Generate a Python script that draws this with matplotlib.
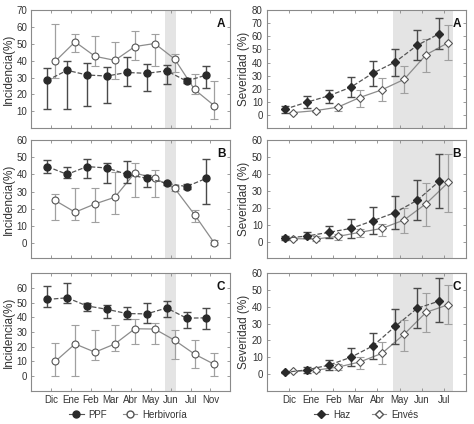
import numpy as np
import matplotlib
matplotlib.use("Agg")
import matplotlib.pyplot as plt
from matplotlib.lines import Line2D

plt.rcParams.update({'font.family': ['Liberation Sans', 'DejaVu Sans']})

# incidencia (left column)
meses_inc = ["Dic", "Ene", "Feb", "Mar", "Abr", "May", "Jun", "Jul", "Nov"]

ppf_a = [28.3, 34.3, 31.5, 30.9, 33.0, 32.5, 34.0, 27.9, 31.5]
ppf_a_lo = [11.2, 11.4, 12.8, 15.0, 25.0, 22.1, 26.3, 26.8, 23.7]
ppf_a_hi = [35.6, 39.6, 38.6, 36.4, 42.2, 37.8, 37.6, 30.0, 36.8]
herb_a = [39.6, 51.2, 42.6, 40.2, 48.4, 50.2, 41.0, 22.9, 13.2]
herb_a_lo = [30.0, 45.0, 37.0, 28.9, 40.6, 36.8, 33.3, 20.0, 5.2]
herb_a_hi = [61.5, 56.0, 54.7, 51.2, 57.5, 56.0, 44.0, 32.3, 27.7]

ppf_b = [44.5, 40.0, 44.5, 43.7, 40.0, 37.7, 34.8, 32.9, 37.7]
ppf_b_lo = [40.8, 37.7, 37.7, 34.8, 34.8, 32.9, 33.8, 31.5, 22.8]
ppf_b_hi = [48.5, 44.0, 49.0, 46.4, 47.6, 39.7, 35.8, 34.2, 49.0]
herb_b = [24.8, 18.0, 22.8, 26.7, 40.8, 37.7, 31.9, 16.6, 0.0]
herb_b_lo = [13.5, 13.2, 12.2, 17.0, 26.7, 27.0, 30.5, 12.2, -1.0]
herb_b_hi = [28.6, 32.3, 31.9, 41.6, 46.6, 42.5, 33.5, 19.3, 2.0]

ppf_c = [52.1, 53.2, 47.7, 45.4, 42.5, 42.3, 46.3, 39.4, 39.6]
ppf_c_lo = [47.2, 49.9, 44.3, 39.8, 38.9, 36.0, 40.5, 32.4, 32.2]
ppf_c_hi = [61.0, 63.5, 49.7, 48.5, 46.8, 49.9, 51.2, 43.4, 46.0]
herb_c = [10.0, 21.9, 16.3, 21.9, 32.2, 32.0, 24.4, 15.0, 8.0]
herb_c_lo = [0.0, 0.0, 11.2, 17.4, 21.9, 21.9, 11.9, 5.8, 0.0]
herb_c_hi = [22.6, 34.5, 31.5, 34.7, 38.7, 35.8, 31.1, 24.8, 15.9]

# severidad (right column)
meses_sev = ["Dic", "Ene", "Feb", "Mar", "Abr", "May", "Jun", "Jul"]

haz_a = [4.3, 9.7, 14.6, 21.2, 32.0, 40.4, 53.2, 62.1]
haz_a_lo = [1.8, 5.4, 9.2, 13.6, 22.0, 30.0, 41.7, 50.6]
haz_a_hi = [6.9, 14.3, 19.4, 28.9, 41.2, 50.4, 64.7, 74.2]
env_a = [1.8, 3.3, 5.9, 13.3, 19.2, 27.1, 46.0, 55.2]
env_a_lo = [1.2, 2.6, 3.3, 5.9, 11.0, 16.9, 32.7, 42.2]
env_a_hi = [2.4, 4.0, 6.6, 19.4, 28.1, 37.3, 57.8, 68.5]

haz_b = [2.5, 3.7, 5.9, 8.2, 12.7, 17.5, 24.7, 35.9]
haz_b_lo = [1.2, 2.4, 2.4, 2.4, 4.9, 8.0, 12.9, 20.0]
haz_b_hi = [3.9, 6.1, 9.6, 13.9, 21.0, 26.9, 36.5, 51.8]
env_b = [2.2, 2.0, 3.5, 5.9, 8.2, 13.1, 22.7, 35.1]
env_b_lo = [1.2, 1.0, 1.6, 2.9, 3.9, 5.7, 9.8, 18.0]
env_b_hi = [2.9, 3.9, 4.7, 7.6, 11.0, 20.4, 34.7, 51.8]

haz_c = [1.0, 2.5, 5.3, 10.0, 16.8, 28.3, 39.1, 43.4]
haz_c_lo = [0.5, 0.8, 2.7, 4.7, 9.2, 18.0, 27.1, 31.0]
haz_c_hi = [1.5, 4.1, 8.4, 15.4, 24.6, 38.9, 51.0, 57.2]
env_c = [1.6, 2.3, 4.1, 7.2, 12.3, 23.6, 36.7, 41.2]
env_c_lo = [1.2, 1.4, 2.3, 3.3, 6.1, 13.9, 25.0, 29.7]
env_c_hi = [2.0, 3.1, 5.9, 10.4, 18.9, 32.4, 48.4, 52.9]

DARK = "#2a2a2a"
DARK_ERR = "#4a4a4a"
LIGHT = "#8c8c8c"
LIGHT_ERR = "#a0a0a0"
FRAME = "#8a8a8a"
SHADE = "#e4e4e4"


def draw_pair(ax, x, m1, lo1, hi1, m2, lo2, hi2, mk1, mk2, ms):
    x = np.arange(len(x))
    m1, m2 = np.array(m1), np.array(m2)
    e1 = [m1 - np.array(lo1), np.array(hi1) - m1]
    e2 = [m2 - np.array(lo2), np.array(hi2) - m2]
    ax.errorbar(x + 0.2, m2, yerr=e2, fmt=mk2, ls='-', color=LIGHT, lw=0.9,
                ecolor=LIGHT_ERR, elinewidth=0.9, capsize=2.8, capthick=0.9,
                mfc='white', mec='#555555', mew=0.8, ms=ms, zorder=3)
    ax.errorbar(x - 0.2, m1, yerr=e1, fmt=mk1, ls='--', color='#555555', lw=0.9,
                ecolor=DARK_ERR, elinewidth=1.0, capsize=2.8, capthick=1.0,
                mfc=DARK, mec=DARK, ms=ms, zorder=4)


def style(ax, n, ylim, yticks, letter, ylabel):
    ax.set_xlim(-1, n)
    ax.set_ylim(*ylim)
    ax.set_yticks(yticks)
    ax.set_xticks(np.arange(n))
    ax.tick_params(direction='in', top=True, right=True, length=2.5, width=0.6,
                   color=FRAME, labelsize=7, labelcolor='#333333', pad=3)
    for s in ax.spines.values():
        s.set_color(FRAME)
        s.set_linewidth(0.8)
    ax.set_ylabel(ylabel, fontsize=8.5, color='#333333', labelpad=1)
    ax.text(0.975, 0.93, letter, transform=ax.transAxes, ha='right', va='top',
            fontsize=8.5, fontweight='bold', color='#111111')


fig = plt.figure(figsize=(4.74, 4.24), dpi=100)
rows_y = [0.698, 0.392, 0.078]
h = 0.278

left_data = [
    (ppf_a, ppf_a_lo, ppf_a_hi, herb_a, herb_a_lo, herb_a_hi, (0, 70), range(10, 71, 10)),
    (ppf_b, ppf_b_lo, ppf_b_hi, herb_b, herb_b_lo, herb_b_hi, (-8.5, 60), range(0, 61, 10)),
    (ppf_c, ppf_c_lo, ppf_c_hi, herb_c, herb_c_lo, herb_c_hi, (-10, 70), range(0, 61, 10)),
]
right_data = [
    (haz_a, haz_a_lo, haz_a_hi, env_a, env_a_lo, env_a_hi, (-10, 80), range(0, 81, 10)),
    (haz_b, haz_b_lo, haz_b_hi, env_b, env_b_lo, env_b_hi, (-9, 60), range(0, 61, 10)),
    (haz_c, haz_c_lo, haz_c_hi, env_c, env_c_lo, env_c_hi, (-10, 60), range(0, 61, 10)),
]
letters = ["A", "B", "C"]

for i in range(3):
    ax = fig.add_axes([0.066, rows_y[i], 0.42, h])
    d = left_data[i]
    ax.axvspan(6 - 0.3, 6 + 0.28, color=SHADE, lw=0, zorder=0)
    draw_pair(ax, meses_inc, d[0], d[1], d[2], d[3], d[4], d[5], 'o', 'o', 5)
    style(ax, len(meses_inc), d[6], list(d[7]), letters[i], "Incidencia(%)")
    if i == 2:
        ax.set_xticklabels(meses_inc)
    else:
        ax.set_xticklabels([])

    ax = fig.add_axes([0.563, rows_y[i], 0.42, h])
    d = right_data[i]
    ax.axvspan(5 - 0.3, 7 + 0.4, color=SHADE, lw=0, zorder=0)
    draw_pair(ax, meses_sev, d[0], d[1], d[2], d[3], d[4], d[5], 'D', 'D', 4.2)
    style(ax, len(meses_sev), d[6], list(d[7]), letters[i], "Severidad (%)")
    if i == 2:
        ax.set_xticklabels(meses_sev)
    else:
        ax.set_xticklabels([])

h_ppf = Line2D([], [], color='#555555', ls='-', lw=0.8, marker='o', ms=5, mfc=DARK, mec=DARK)
h_herb = Line2D([], [], color=LIGHT, ls='-', lw=0.8, marker='o', ms=5, mfc='white', mec='#555555')
fig.legend([h_ppf, h_herb], ["PPF", "Herbivoría"], loc='center', bbox_to_anchor=(0.27, 0.022),
           ncol=2, frameon=False, fontsize=7, handlelength=1.5, handletextpad=0.5,
           columnspacing=1.6, labelcolor='#333333')
h_haz = Line2D([], [], color='#555555', ls='-', lw=0.8, marker='D', ms=4.2, mfc=DARK, mec=DARK)
h_env = Line2D([], [], color=LIGHT, ls='-', lw=0.8, marker='D', ms=4.2, mfc='white', mec='#555555')
fig.legend([h_haz, h_env], ["Haz", "Envés"], loc='center', bbox_to_anchor=(0.772, 0.022),
           ncol=2, frameon=False, fontsize=7, handlelength=1.5, handletextpad=0.5,
           columnspacing=2.2, labelcolor='#333333')

fig.savefig("out.png", dpi=100)
